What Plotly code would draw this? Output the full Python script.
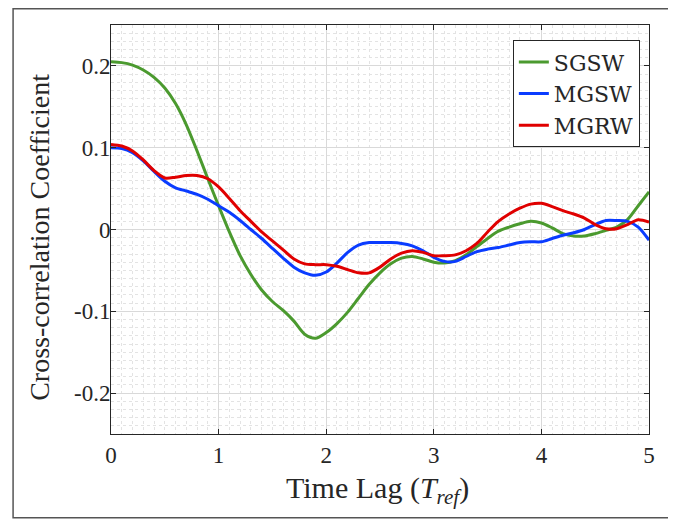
import plotly.graph_objects as go

lag = [round(i * 0.1, 1) for i in range(51)]

sgsw = [0.205, 0.204, 0.201, 0.195, 0.186, 0.173, 0.154, 0.128, 0.096, 0.062,
        0.029, -0.003, -0.032, -0.055, -0.074, -0.088, -0.099, -0.112, -0.128, -0.133,
        -0.126, -0.115, -0.101, -0.084, -0.067, -0.053, -0.042, -0.035, -0.033, -0.036,
        -0.040, -0.041, -0.038, -0.031, -0.021, -0.011, -0.002, 0.003, 0.007, 0.010,
        0.008, 0.002, -0.005, -0.008, -0.008, -0.005, -0.001, 0.003, 0.012, 0.029, 0.046]

mgsw = [0.100, 0.099, 0.094, 0.084, 0.071, 0.059, 0.051, 0.047, 0.043, 0.037,
        0.029, 0.021, 0.011, 0.000, -0.011, -0.023, -0.035, -0.046, -0.053, -0.056,
        -0.052, -0.041, -0.028, -0.019, -0.016, -0.016, -0.016, -0.017, -0.020, -0.026,
        -0.034, -0.039, -0.039, -0.033, -0.027, -0.024, -0.022, -0.019, -0.016, -0.015,
        -0.015, -0.011, -0.007, -0.004, 0.000, 0.006, 0.011, 0.011, 0.010, 0.003, -0.013]

mgrw = [0.104, 0.102, 0.096, 0.085, 0.072, 0.063, 0.064, 0.066, 0.066, 0.062,
        0.052, 0.038, 0.023, 0.010, -0.003, -0.014, -0.025, -0.036, -0.042, -0.043,
        -0.043, -0.045, -0.049, -0.053, -0.053, -0.046, -0.036, -0.029, -0.026, -0.028,
        -0.032, -0.032, -0.031, -0.026, -0.017, -0.003, 0.010, 0.019, 0.026, 0.031,
        0.032, 0.028, 0.023, 0.019, 0.014, 0.006, 0.001, 0.001, 0.006, 0.012, 0.009]

series_names = ["SGSW", "MGSW", "MGRW"]
series_colors = ["#4b9a2f", "#0a3cff", "#e00000"]

x_ticks = [0, 1, 2, 3, 4, 5]
y_ticks = [-0.2, -0.1, 0, 0.1, 0.2]
y_ticktext = ["-0.2", "-0.1", "0", "0.1", "0.2"]

FONT = "Liberation Serif"
LEG_FONT = "DejaVu Serif"
TXT = "#262626"

fig = go.Figure()
for name, vals, col in zip(series_names, [sgsw, mgsw, mgrw], series_colors):
    fig.add_trace(go.Scatter(x=lag, y=vals, name=name, mode="lines",
                             line=dict(color=col, width=3, shape="spline", smoothing=0.8)))

axis_common = dict(
    showline=True, linecolor=TXT, linewidth=1, mirror="allticks",
    ticks="inside", ticklen=5, tickcolor=TXT, tickwidth=1,
    showgrid=True, gridcolor="#d9d9d9", gridwidth=1, zeroline=False,
    tickfont=dict(family=FONT, size=23, color=TXT), automargin=False,
)

fig.update_xaxes(
    range=[0, 5], tickvals=x_ticks, ticktext=[str(v) for v in x_ticks],
    minor=dict(dtick=0.1, showgrid=True, gridcolor="#e3e3e3", griddash="dot", gridwidth=1),
    **axis_common,
)
fig.update_yaxes(
    range=[-0.25, 0.25], tickvals=y_ticks, ticktext=y_ticktext,
    minor=dict(dtick=0.01, showgrid=True, gridcolor="#e3e3e3", griddash="dot", gridwidth=1),
    ticklabelstandoff=-5,
    **axis_common,
)

fig.add_annotation(text="Time Lag (<i>T</i><sub><i>ref</i></sub>)", xref="paper", yref="paper",
                   x=0.496, y=-0.137, xanchor="center", yanchor="middle", showarrow=False,
                   font=dict(family=FONT, size=30, color=TXT))
fig.add_annotation(text="Cross-correlation Coefficient", xref="paper", yref="paper",
                   x=-0.132, y=0.482, xanchor="center", yanchor="middle", showarrow=False,
                   textangle=-90, font=dict(family=FONT, size=28, color=TXT))

fig.add_shape(type="rect", xref="paper", yref="paper",
              x0=-0.182, x1=1.041, y0=-0.205, y1=1.040,
              line=dict(color="#555555", width=1.5), fillcolor="rgba(0,0,0,0)", layer="below")

fig.update_layout(
    width=668, height=512,
    margin=dict(l=103, r=27, t=17, b=86),
    plot_bgcolor="white", paper_bgcolor="white",
    showlegend=True,
    legend=dict(x=0.983, y=0.963, xanchor="right", yanchor="top",
                bgcolor="white", bordercolor=TXT, borderwidth=1,
                font=dict(family=LEG_FONT, size=22, color=TXT),
                itemwidth=30, tracegroupgap=0),
)

fig.write_html("out.html")
